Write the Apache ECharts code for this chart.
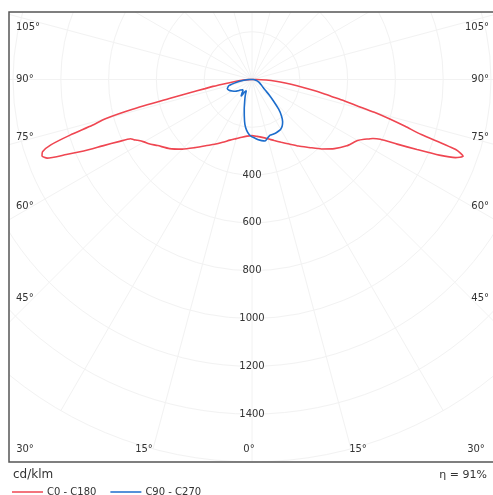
<!DOCTYPE html>
<html>
<head>
<meta charset="utf-8">
<script src="https://cdn.jsdelivr.net/npm/echarts@6/dist/echarts.min.js"></script>
<style>
  html, body { margin: 0; padding: 0; background: #fff; }
  #chart { width: 493px; height: 495px; }
</style>
</head>
<body>
<div id="chart"></div>
<script>
// ---- data (cd/klm vs gamma angle in degrees) ----
const redAngles = [0,5,10,15,20,25,30,35,40,45,50,55,58,60,62,63,64,65,66,67,68,69,70,71,72,73,74,75,76,77,78,79,80,82,84,86,88,90,95];
const redC180   = [235,238,245,256,270,290,313,338,372,412,450,482,508,522,542,555,565,615,680,765,838,918,935,927,885,796,695,635,515,355,262,200,166,95,62,36,16,4,0];
const redC0     = [235,239,246,257,272,290,312,340,371,411,450,484,499,510,532,548,563,592,665,750,845,912,940,905,745,670,600,530,452,395,340,300,260,190,140,100,60,20,0];

const blueAngles = [0,3,6,9,12,15,18,21,24,27,30,33,36,39,42,45,48,51,55,60,65,70,75,80,85,90,95];
const blueC90    = [240,246,254,259,263,253,245,245,245,243,240,232,218,196,166,127,98,72,55,44,36,29,22,16,10,5,0];
const blueC270   = [240,230,214,190,155,125,100,82,66,52,58,84,72,60,58,62,66,75,86,96,106,110,100,62,34,10,0];

const seriesNames = ['C0 - C180', 'C90 - C270'];
const radiusTicks = [400, 600, 800, 1000, 1200, 1400];
const sideAngleLabels = ['105°', '90°', '75°', '60°', '45°'];
const bottomAngleLabels = ['30°', '15°', '0°', '15°', '30°'];
const unitLabel = 'cd/klm';
const efficiencyLabel = 'η = 91%';

// ---- layout (positions only) ----
const sideLabelY = [27, 79, 137, 206, 298];
const bottomLabelX = [25, 144, 249, 358, 476];

// build polar series: left half (angles as gamma) then right half (360 - gamma)
function buildCurve(angles, leftVals, rightVals) {
  const pts = [];
  for (let i = angles.length - 1; i >= 0; i--) pts.push([leftVals[i], angles[i]]);
  for (let i = 0; i < angles.length; i++) pts.push([rightVals[i], 360 - angles[i]]);
  return pts;
}

const font = 'DejaVu Sans';
const txtColor = '#333';
const graphics = [
  { type: 'rect', z: 100, shape: { x: 0, y: 0, width: 493, height: 12 }, style: { fill: '#fff' }, silent: true },
  { type: 'rect', z: 100, shape: { x: 0, y: 0, width: 9, height: 495 }, style: { fill: '#fff' }, silent: true },
  { type: 'rect', z: 101, shape: { x: 9, y: 12, width: 500, height: 450 }, style: { fill: null, stroke: '#555', lineWidth: 1.5 }, silent: true }
];
sideAngleLabels.forEach((t, i) => {
  graphics.push({ type: 'text', z: 102, x: 16, y: sideLabelY[i], style: { text: t, font: '10px ' + font, fill: txtColor, textAlign: 'left', textVerticalAlign: 'middle' } });
  graphics.push({ type: 'text', z: 102, x: 489, y: sideLabelY[i], style: { text: t, font: '10px ' + font, fill: txtColor, textAlign: 'right', textVerticalAlign: 'middle' } });
});
bottomAngleLabels.forEach((t, i) => {
  graphics.push({ type: 'text', z: 102, x: bottomLabelX[i], y: 449, style: { text: t, font: '10px ' + font, fill: txtColor, textAlign: 'center', textVerticalAlign: 'middle' } });
});
graphics.push({ type: 'text', z: 102, x: 13, y: 475, style: { text: unitLabel, font: '12px ' + font, fill: txtColor, textAlign: 'left', textVerticalAlign: 'middle' } });
graphics.push({ type: 'text', z: 102, x: 487, y: 475, style: { text: efficiencyLabel, font: '11px ' + font, fill: txtColor, textAlign: 'right', textVerticalAlign: 'middle' } });

const chart = echarts.init(document.getElementById('chart'), null, { renderer: 'canvas' });
const grid = '#f2f2f2';
chart.setOption({
  animation: false,
  backgroundColor: '#fff',
  textStyle: { fontFamily: font },
  polar: { center: [252, 79.5], radius: 382.4 },
  angleAxis: {
    type: 'value', min: 0, max: 360, interval: 15, startAngle: 270, clockwise: true,
    axisLine: { show: false }, axisTick: { show: false }, axisLabel: { show: false },
    splitLine: { show: true, lineStyle: { color: grid, width: 1 } }
  },
  radiusAxis: {
    type: 'value', min: 0, max: 1600, interval: 200,
    axisLine: { show: false }, axisTick: { show: false },
    axisLabel: {
      show: true, margin: 0, align: 'center', verticalAlign: 'middle',
      color: txtColor, fontSize: 10, fontFamily: font,
      formatter: v => (radiusTicks.indexOf(v) >= 0 ? String(v) : '')
    },
    splitLine: { show: true, lineStyle: { color: grid, width: 1 } }
  },
  legend: {
    data: seriesNames, left: 7, top: 482, icon: 'rect', itemWidth: 31, itemHeight: 1.5, itemGap: 14,
    textStyle: { fontSize: 10, color: txtColor, fontFamily: font, padding: [0, 0, 0, -1] }
  },
  graphic: graphics,
  series: [
    { name: seriesNames[0], type: 'line', coordinateSystem: 'polar', showSymbol: false, symbol: 'none', smooth: 0.2,
      data: buildCurve(redAngles, redC180, redC0), lineStyle: { color: '#ef4651', width: 1.6 }, itemStyle: { color: '#ef4651' }, z: 3 },
    { name: seriesNames[1], type: 'line', coordinateSystem: 'polar', showSymbol: false, symbol: 'none', smooth: 0.15,
      data: buildCurve(blueAngles, blueC270, blueC90), lineStyle: { color: '#1c6dcc', width: 1.6 }, itemStyle: { color: '#1c6dcc' }, z: 4 }
  ]
});
</script>
</body>
</html>
